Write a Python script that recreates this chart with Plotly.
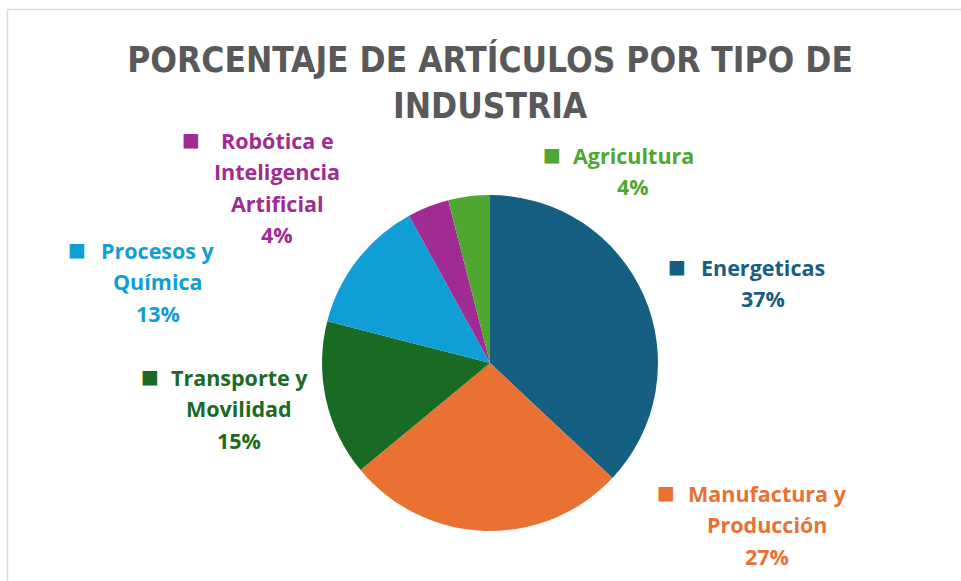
import plotly.graph_objects as go

categories = ["Energeticas", "Manufactura y Producción", "Transporte y Movilidad",
              "Procesos y Química", "Robótica e Inteligencia Artificial", "Agricultura"]
values = [37, 27, 15, 13, 4, 4]
colors = ["#156082", "#E97132", "#196B24", "#0F9ED5", "#A02B93", "#4EA72E"]
label_lines = [
    ["Energeticas"],
    ["Manufactura y", "Producción"],
    ["Transporte y", "Movilidad"],
    ["Procesos y", "Química"],
    ["Robótica e", "Inteligencia", "Artificial"],
    ["Agricultura"],
]
title_text = "PORCENTAJE DE ARTÍCULOS POR TIPO DE<br>INDUSTRIA"

W, H = 961, 581
# label layout in pixels: (text centre x, legend-key centre x, first line y)
label_pos = [(763, 677, 267), (767, 666, 493), (239, 150, 377),
             (158, 77, 250), (277, 191, 140), (633, 552, 155)]
LINE = 31.5

fig = go.Figure(go.Pie(
    labels=categories, values=values, sort=False, direction="clockwise", rotation=0,
    marker=dict(colors=colors, line=dict(width=0)),
    textinfo="none", hoverinfo="label+percent", showlegend=False,
    domain=dict(x=[322 / W, 658 / W], y=[(H - 531) / H, (H - 195) / H]),
))

annotations = []
total = sum(values)
font_family = "'Open Sans', Lato, sans-serif"
for lines, v, c, (cx, kx, y0) in zip(label_lines, values, colors, label_pos):
    pct = f"{round(100 * v / total)}%"
    all_lines = list(lines) + [pct]
    for i, t in enumerate(all_lines):
        annotations.append(dict(
            x=cx / W, y=1 - (y0 + i * LINE) / H, xref="paper", yref="paper",
            text=f"<b>{t}</b>", showarrow=False, xanchor="center", yanchor="middle",
            font=dict(family=font_family, size=21.5, color=c),
        ))
    annotations.append(dict(
        x=kx / W, y=1 - (y0 - 1) / H, xref="paper", yref="paper",
        text="■", showarrow=False, xanchor="center", yanchor="middle",
        font=dict(family="DejaVu Sans", size=19, color=c),
    ))

fig.update_layout(
    width=W, height=H,
    margin=dict(l=0, r=0, t=0, b=0),
    paper_bgcolor="white", plot_bgcolor="white",
    title=dict(text=f"<b>{title_text}</b>", x=0.51, xanchor="center", y=1 - 72 / H, yanchor="middle",
               font=dict(family="'DejaVu Sans Condensed', 'Liberation Sans Narrow', Roboto, sans-serif",
                         size=35, color="#595959")),
    annotations=annotations,
    shapes=[dict(type="rect", xref="paper", yref="paper", x0=7.5 / W, x1=1.01, y0=-0.01, y1=1 - 9.5 / H,
                 line=dict(color="#D9D9D9", width=1.5))],
)

fig.write_html("out.html", config={"displayModeBar": False},
               post_script="document.body.style.margin='0';")
